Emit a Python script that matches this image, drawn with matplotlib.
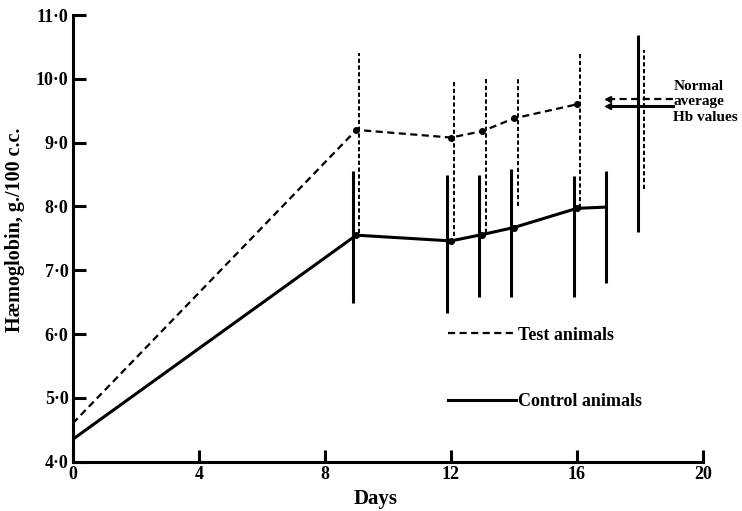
import matplotlib
matplotlib.use("Agg")
import matplotlib.pyplot as plt

# Haemoglobin recovery
test_days = [0, 9, 12, 13, 14, 16]
test_hb = [4.6, 9.2, 9.08, 9.18, 9.38, 9.6]
control_days = [0, 9, 12, 13, 14, 16, 16.92]
control_hb = [4.35, 7.55, 7.46, 7.56, 7.67, 7.97, 7.99]

# range bars (drawn a little off the points, as in the original)
test_bar_days = [9.09, 12.09, 13.1, 14.12, 16.09]
test_bar_low = [7.58, 7.53, 7.59, 8.0, 7.97]
test_bar_high = [10.4, 9.97, 9.99, 9.99, 10.4]
control_bar_days = [8.88, 11.87, 12.89, 13.91, 15.91, 16.92]
control_bar_low = [6.48, 6.33, 6.58, 6.58, 6.58, 6.8]
control_bar_high = [8.55, 8.49, 8.49, 8.58, 8.47, 8.55]

# normal average Hb values (right-hand side)
normal_test = 9.68
normal_control = 9.58
normal_test_range = [8.28, 10.45]
normal_control_range = [7.6, 10.68]
normal_test_day = 18.13
normal_control_day = 17.93
normal_arrow_days = [16.98, 19.04]

x_ticks = [0, 4, 8, 12, 16, 20]
y_ticks = [4, 5, 6, 7, 8, 9, 10, 11]
y_labels = ["4·0", "5·0", "6·0", "7·0", "8·0", "9·0", "10·0", "11·0"]

plt.rcParams["font.family"] = ["Liberation Serif", "DejaVu Serif"]
plt.rcParams["font.weight"] = "bold"

fig = plt.figure(figsize=(7.42, 5.11), dpi=100)
ax = fig.add_axes([0.098, 0.0965, 0.8494, 0.8741])

dash = (0, (3.2, 2))
bar_dash = (0, (2.2, 1.3))

ax.plot(test_days, test_hb, color="black", lw=1.6, linestyle=dash,
        label="Test animals")
ax.plot(control_days, control_hb, color="black", lw=2.2,
        label="Control animals")
ax.plot(test_days[1:], test_hb[1:], "o", color="black", markersize=4)
ax.plot(control_days[1:-1], control_hb[1:-1], "o", color="black", markersize=4)

ax.vlines(test_bar_days, test_bar_low, test_bar_high, colors="black",
          lw=1.4, linestyles=bar_dash)
ax.vlines(control_bar_days, control_bar_low, control_bar_high,
          colors="black", lw=2.2)

# normal values
ax.vlines([normal_control_day], normal_control_range[0], normal_control_range[1],
          colors="black", lw=2.2)
ax.vlines([normal_test_day], normal_test_range[0], normal_test_range[1],
          colors="black", lw=1.4, linestyles=bar_dash)
ax.plot(normal_arrow_days, [normal_control, normal_control], color="black", lw=2.2)
ax.plot(normal_arrow_days, [normal_test, normal_test], color="black", lw=1.6,
        linestyle=dash)
ax.plot(normal_arrow_days[0], normal_control, marker="<", color="black", markersize=5)
ax.plot(normal_arrow_days[0], normal_test, marker="<", color="black", markersize=4)
ax.text(normal_arrow_days[1] + 0.02, 9.64, "Normal\naverage\nHb values",
        fontsize=11, fontweight="bold", va="center", ha="left", linespacing=1.25)

ax.set_xlim(0, 20)
ax.set_ylim(4, 11)
ax.set_xticks(x_ticks)
ax.set_yticks(y_ticks)
ax.set_yticklabels(y_labels)
ax.spines["top"].set_visible(False)
ax.spines["right"].set_visible(False)
ax.spines["left"].set_linewidth(2.2)
ax.spines["bottom"].set_linewidth(2.2)
ax.tick_params(axis="both", direction="in", length=9, width=2.2,
               labelsize=13, pad=3)

ax.set_xlabel("Days", fontsize=15, fontweight="bold")
ax.xaxis.set_label_coords(0.481, -0.062)
ax.set_ylabel("Hæmoglobin, g./100 c.c.", fontsize=14.5, fontweight="bold")
ax.yaxis.set_label_coords(-0.075, 0.52)

ax.legend(loc="upper left", bbox_to_anchor=(0.595, 0.302), frameon=False,
          handlelength=3.8, handletextpad=0.08, labelspacing=2.75,
          borderpad=0, borderaxespad=0,
          prop={"size": 13, "weight": "bold"})

fig.savefig("out.png", dpi=100)
